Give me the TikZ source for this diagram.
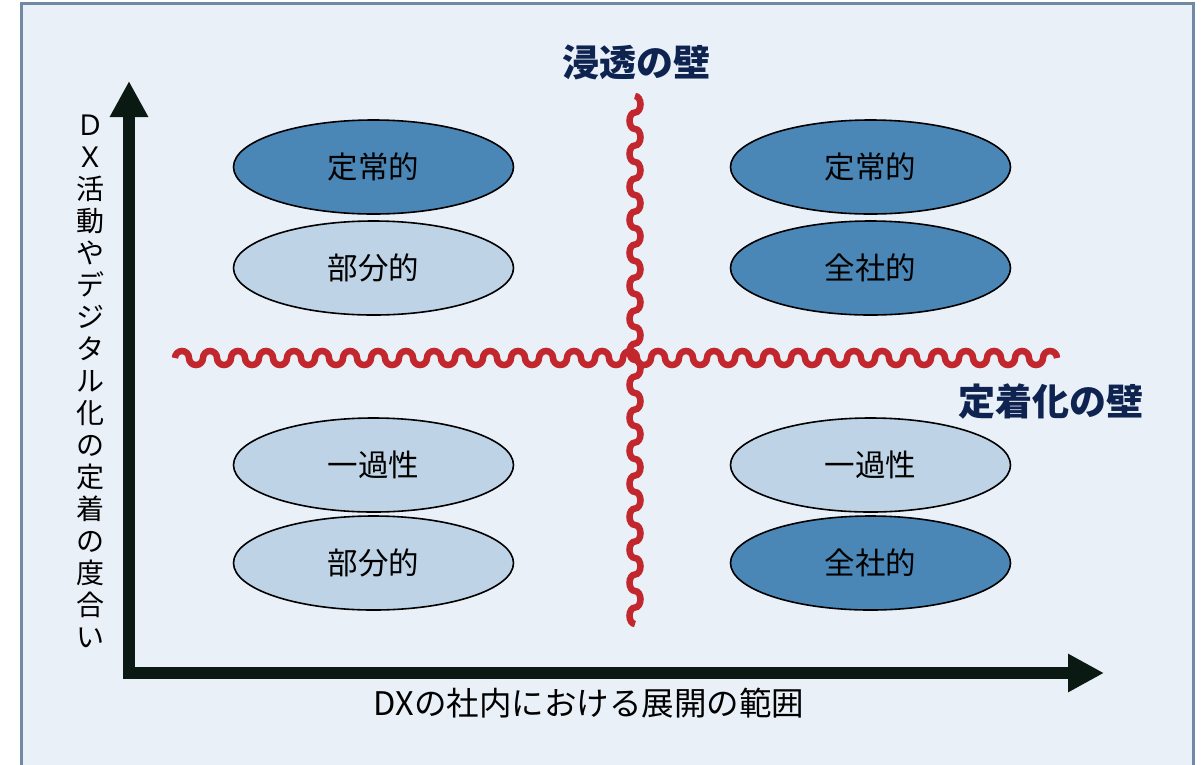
\documentclass[tikz,border=0pt]{standalone}
\usepackage{fontspec}
\newfontfamily\jp{Noto Sans CJK JP}
\usetikzlibrary{shapes.geometric,arrows.meta}
\definecolor{bgc}{HTML}{E9F0F7}
\definecolor{framec}{HTML}{7189A4}
\definecolor{darkell}{HTML}{4A86B6}
\definecolor{lightell}{HTML}{BED3E6}
\definecolor{wallred}{HTML}{C1272D}
\definecolor{navy}{HTML}{0E2350}
\definecolor{axisc}{HTML}{0B1913}
\tikzset{
  ell/.style={ellipse, draw=black, line width=1.6pt, minimum width=280pt, minimum height=94pt, inner sep=0pt, font=\jp\fontsize{30.5}{32}\selectfont, text=black},
  darkfill/.style={ell, fill=darkell},
  lightfill/.style={ell, fill=lightell},
  wall/.style={draw=wallred, line width=6.5pt},
  walltitle/.style={font=\jp\bfseries\fontsize{37}{40}\selectfont, text=navy},
  axisarrow/.style={draw=axisc, fill=axisc, line width=12.5pt, -{Triangle[length=36pt 0 0, width=36pt 0 0]}},
}
\begin{document}
\begin{tikzpicture}[x=1pt,y=-1pt]
\useasboundingbox (0,0) rectangle (1201,764);
\fill[white] (0,0) rectangle (1201,764);
\filldraw[fill=bgc, draw=framec, line width=3pt] (21,3) rectangle (1193,790);

% axes
\coordinate (ybot) at (129,679);
\coordinate (ytop) at (129,81);
\coordinate (xleft) at (123,673);
\coordinate (xright) at (1104,673);
\draw[axisarrow] (ybot) -- (ytop);
\draw[axisarrow] (xleft) -- (xright);

% walls
\coordinate (vtop) at (635,96);
\coordinate (hleft) at (175,358);
\draw[wall] (vtop) \foreach \i in {1,...,16} { arc[start angle=270, end angle=450, x radius=5.5, y radius=8.25] arc[start angle=270, end angle=90, x radius=5.5, y radius=8.25] };
\draw[wall] (hleft) \foreach \i in {1,...,31} { arc[start angle=180, end angle=360, radius=7] arc[start angle=180, end angle=0, radius=7] } arc[start angle=180, end angle=360, radius=7];

% wall titles
\node[walltitle] (t1) at (636,62) {浸透の壁};
\node[walltitle] (t2) at (1051,402) {定着化の壁};

% ellipses
\node[darkfill] (e1) at (373.5,167) {定常的};
\node[lightfill] (e2) at (373.5,268) {部分的};
\node[lightfill] (e3) at (373.5,465) {一過性};
\node[lightfill] (e4) at (373.5,563) {部分的};
\node[darkfill] (e5) at (870.5,167) {定常的};
\node[darkfill] (e6) at (870.5,268) {全社的};
\node[lightfill] (e7) at (870.5,465) {一過性};
\node[darkfill] (e8) at (870.5,563) {全社的};

% axis labels
\node[font=\jp\fontsize{28}{32}\selectfont, align=center, inner sep=0pt] (ylab) at (90,381)
 {Ｄ\\Ｘ\\活\\動\\や\\デ\\ジ\\タ\\ル\\化\\の\\定\\着\\の\\度\\合\\い};
\node[font=\jp\fontsize{32.5}{34}\selectfont, inner sep=0pt] (xlab) at (589,703) {DXの社内における展開の範囲};
\end{tikzpicture}
\end{document}
